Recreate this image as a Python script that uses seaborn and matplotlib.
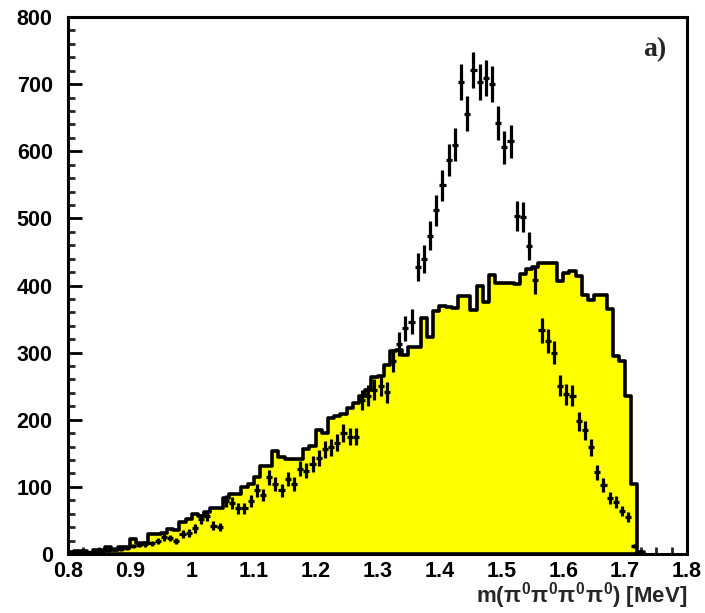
import numpy as np
import pandas as pd
import matplotlib
matplotlib.use("Agg")
import matplotlib.pyplot as plt
from matplotlib.ticker import MultipleLocator
import seaborn as sns

# Monte Carlo expectation, one value per 0.01 bin starting at 0.80
mc_counts = [
    3, 4, 4, 2, 6, 6, 10, 6, 10, 10,            # 0.80 - 0.89
    22, 17, 17, 30, 30, 32, 37, 36, 47, 52,     # 0.90 - 0.99
    60, 56, 62, 68, 68, 84, 90, 90, 100, 105,   # 1.00 - 1.09
    114, 131, 131, 154, 144, 142, 142, 142, 157, 161,  # 1.10 - 1.19
    185, 180, 202, 205, 209, 218, 225, 235, 245, 263,  # 1.20 - 1.29
    265, 281, 303, 304, 296, 308, 308, 351, 323, 362,  # 1.30 - 1.39
    370, 368, 366, 385, 385, 364, 400, 376, 416, 404,  # 1.40 - 1.49
    404, 404, 402, 417, 424, 428, 434, 434, 434, 406,  # 1.50 - 1.59
    418, 421, 414, 386, 378, 386, 386, 365, 295, 288,  # 1.60 - 1.69
    236, 105, 3,                                      # 1.70 - 1.72
]

# Measured event counts at the bin centres
data_counts = [
    2, 3, 2, 3, 4, 5, 6, 8, 7, 9,
    12, 14, 15, 16, 20, 25, 24, 20, 30, 31,
    38, 52, 57, 42, 40, 79, 76, 68, 68, 79,
    95, 88, 114, 104, 95, 112, 104, 127, 124, 134,
    143, 156, 159, 166, 180, 175, 175, 229, 236, 245,
    251, 241, 288, 313, 336, 346, 428, 440, 474, 512,
    549, 587, 610, 703, 656, 721, 703, 709, 700, 642,
    606, 615, 504, 502, 459, 408, 333, 318, 300, 251,
    238, 236, 198, 184, 159, 122, 103, 83, 78, 64,
    55, 12,
]

x_ticks = [0.8, 0.9, 1.0, 1.1, 1.2, 1.3, 1.4, 1.5, 1.6, 1.7, 1.8]
x_tick_labels = ["0.8", "0.9", "1", "1.1", "1.2", "1.3", "1.4", "1.5", "1.6", "1.7", "1.8"]
y_ticks = [0, 100, 200, 300, 400, 500, 600, 700, 800]

bin_width = 0.01
n_mc = len(mc_counts)
mc = pd.DataFrame({
    "mass": 0.805 + bin_width * np.arange(n_mc),
    "count": np.array(mc_counts, dtype=float),
})
data_centres = 0.805 + bin_width * np.arange(len(data_counts))
data_counts = np.array(data_counts, dtype=float)
data_err = np.sqrt(data_counts)  # Poisson errors

sns.set_theme(style="white")
plt.rcParams["font.family"] = ["Liberation Sans", "DejaVu Sans"]
plt.rcParams["mathtext.fontset"] = "custom"
plt.rcParams["mathtext.rm"] = "Liberation Sans:bold"
plt.rcParams["mathtext.it"] = "Liberation Sans:bold"
plt.rcParams["mathtext.bf"] = "Liberation Sans:bold"

fig = plt.figure(figsize=(7.05, 6.13), dpi=100)
ax = fig.add_axes([68 / 705, 1 - 554 / 613, 619 / 705, 537 / 613])

sns.histplot(
    data=mc, x="mass", weights="count", binwidth=bin_width,
    binrange=(0.80, 0.80 + bin_width * n_mc), element="step",
    fill=True, color="#ffff00", alpha=1.0, edgecolor="black",
    linewidth=2.6, ax=ax, zorder=1,
)

ax.errorbar(
    data_centres, data_counts, xerr=0.005, yerr=data_err,
    fmt="none", ecolor="black", elinewidth=2.3, capsize=0, zorder=3,
)

ax.set_xlim(0.8, 1.8)
ax.set_ylim(0, 800)
ax.set_xticks(x_ticks)
ax.set_xticklabels(x_tick_labels)
ax.set_yticks(y_ticks)
ax.xaxis.set_minor_locator(MultipleLocator(0.025))
ax.yaxis.set_minor_locator(MultipleLocator(20))
ax.tick_params(axis="both", which="major", direction="in", length=10, width=2,
               labelsize=15.5, colors="black")
ax.tick_params(axis="both", which="minor", direction="in", length=5, width=2)
ax.tick_params(axis="x", which="both", bottom=True, top=False, pad=5)
ax.tick_params(axis="y", which="both", left=True, right=False, pad=11)
for lbl in ax.get_xticklabels() + ax.get_yticklabels():
    lbl.set_fontweight("bold")
for s in ax.spines.values():
    s.set_linewidth(2.2)
    s.set_color("black")

ax.set_ylabel("")
ax.set_xlabel(r"m($\pi^{0}\pi^{0}\pi^{0}\pi^{0}$) [MeV]", fontsize=16,
              fontweight="bold", loc="right", labelpad=-1)

ax.text(0.966, 0.9385, "a)", transform=ax.transAxes, ha="right", va="center",
        fontsize=20, fontweight="bold", family=["Liberation Serif", "DejaVu Serif"])

fig.savefig("out.png", dpi=100)
